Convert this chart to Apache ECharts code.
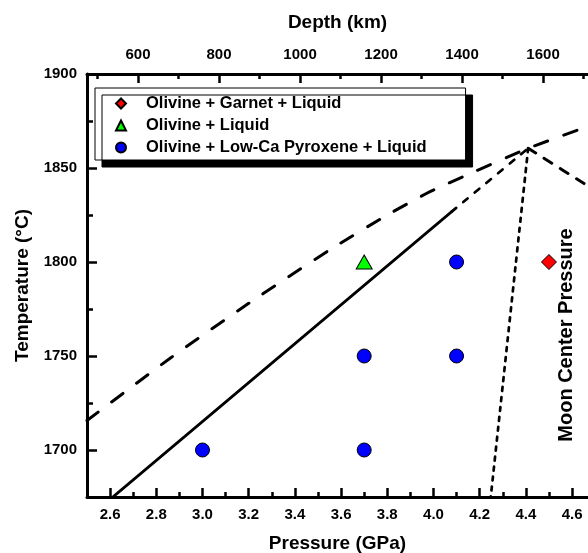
<!DOCTYPE html>
<html>
	<head>
		<meta charset="utf-8">
		<title></title>
		<script src="https://cdn.jsdelivr.net/npm/echarts@6/dist/echarts.min.js"></script>
	</head>
	<body style="margin:0">
		<div id="main" style="width:588px;height:553px;"></div>
		<script>
			// tick values
			var pressureTicks = [2.6, 2.8, 3.0, 3.2, 3.4, 3.6, 3.8, 4.0, 4.2, 4.4, 4.6];
			var pressureMinor = [2.7, 2.9, 3.1, 3.3, 3.5, 3.7, 3.9, 4.1, 4.3, 4.5];
			var depthTicks = [600, 800, 1000, 1200, 1400, 1600];
			var depthMinor = [500, 700, 900, 1100, 1300, 1500, 1700];
			var tempTicks = [1700, 1750, 1800, 1850, 1900];
			var tempMinor = [1725, 1775, 1825, 1875];

			// experiments (P GPa, T C)
			var garnetPts = [[4.5, 1800]];
			var liquidPts = [[3.7, 1800]];
			var pyroxenePts = [[4.1, 1800], [3.7, 1750], [4.1, 1750], [3.0, 1700], [3.7, 1700]];

			// phase boundaries
			var longDash = [[2.5, 1715.7], [2.86, 1748.8], [3.2, 1778], [3.55, 1806.4], [3.8, 1825], [3.985, 1837.4], [4.15, 1846.6], [4.41, 1860.5], [4.7, 1873.5]];
			var solidLine = [[2.614, 1675.2], [4.079, 1826.8]];
			var solidExt = [[4.079, 1826.8], [4.41, 1860.5]];
			var rightDash = [[4.41, 1860.5], [4.7, 1838]];
			var dotLine = [[4.41, 1860.5], [4.248, 1675]];

			var font = 'Liberation Sans, Arial, sans-serif';
			var bold = { fontFamily: font, fontWeight: 'bold', color: '#000' };
			var plain = function (v) { return String(v); };

			function lineSeries(data, width, dash) {
				return {
					type: 'line', data: data, showSymbol: false, symbol: 'none', silent: true, z: 1,
					smooth: 0.2,
					lineStyle: { color: '#000', width: width, type: dash, cap: 'round' }
				};
			}

			var myChart = echarts.init(document.getElementById('main'));
			var axisLine = { lineStyle: { color: '#000', width: 3 } };
			var option = {
				animation: false,
				backgroundColor: '#fff',
				grid: { left: 87, top: 74, right: 0, bottom: 56, outerBoundsMode: 'none', containLabel: false },
				legend: {
					orient: 'vertical', left: 95, top: 88,
					padding: [7, 39, 4, 20], itemGap: 5, itemWidth: 10, itemHeight: 10,
					backgroundColor: '#fff', borderColor: '#000', borderWidth: 1,
					shadowColor: '#000', shadowBlur: 0, shadowOffsetX: 7, shadowOffsetY: 7,
					textStyle: Object.assign({ fontSize: 16.5, padding: [0, 0, 0, 15] }, bold),
					data: ['Olivine + Garnet + Liquid', 'Olivine + Liquid', 'Olivine + Low-Ca Pyroxene + Liquid']
				},
				xAxis: [
					{
						type: 'value', position: 'bottom', min: 2.5, max: 4.669,
						axisLine: axisLine, splitLine: { show: false },
						axisTick: { inside: true, length: 9, lineStyle: { width: 2.5, color: '#000' }, customValues: pressureTicks },
						axisLabel: Object.assign({ fontSize: 15, margin: 10, customValues: pressureTicks, formatter: function (v) { return v.toFixed(1); } }, bold),
						name: 'Pressure (GPa)', nameLocation: 'middle', nameGap: 37,
						nameTextStyle: Object.assign({ fontSize: 19 }, bold)
					},
					{
						type: 'value', position: 'bottom', min: 2.5, max: 4.669,
						axisLine: { show: false }, splitLine: { show: false }, axisLabel: { show: false },
						axisTick: { inside: true, length: 5, lineStyle: { width: 2.5, color: '#000' }, customValues: pressureMinor }
					},
					{
						type: 'value', position: 'top', min: 474, max: 1711,
						axisLine: axisLine, splitLine: { show: false },
						axisTick: { inside: true, length: 9, lineStyle: { width: 2.5, color: '#000' }, customValues: depthTicks },
						axisLabel: Object.assign({ fontSize: 15, margin: 12, customValues: depthTicks, formatter: plain }, bold),
						name: 'Depth (km)', nameLocation: 'middle', nameGap: 42,
						nameTextStyle: Object.assign({ fontSize: 19 }, bold)
					},
					{
						type: 'value', position: 'top', min: 474, max: 1711,
						axisLine: { show: false }, splitLine: { show: false }, axisLabel: { show: false },
						axisTick: { inside: true, length: 5, lineStyle: { width: 2.5, color: '#000' }, customValues: depthMinor }
					}
				],
				yAxis: [
					{
						type: 'value', position: 'left', min: 1675, max: 1900,
						axisLine: axisLine, splitLine: { show: false },
						axisTick: { inside: true, length: 10, lineStyle: { width: 2.5, color: '#000' }, customValues: tempTicks },
						axisLabel: Object.assign({ fontSize: 15, margin: 10, customValues: tempTicks, formatter: plain }, bold),
						name: 'Temperature (°C)', nameLocation: 'middle', nameGap: 55,
						nameTextStyle: Object.assign({ fontSize: 19 }, bold)
					},
					{
						type: 'value', position: 'left', min: 1675, max: 1900,
						axisLine: { show: false }, splitLine: { show: false }, axisLabel: { show: false },
						axisTick: { inside: true, length: 6, lineStyle: { width: 2.5, color: '#000' }, customValues: tempMinor }
					}
				],
				graphic: [{
					type: 'text', x: 566, y: 335, rotation: Math.PI / 2,
					style: { text: 'Moon Center Pressure', font: 'bold 20px ' + font, fill: '#000', align: 'center', verticalAlign: 'middle' }
				}],
				series: [
					lineSeries(longDash, 3, [14, 17]),
					lineSeries(solidLine, 2.7, 'solid'),
					lineSeries(solidExt, 2.7, [6, 9]),
					lineSeries(rightDash, 3, [9, 10]),
					lineSeries(dotLine, 2.7, [4, 6]),
					{
						name: 'Olivine + Garnet + Liquid', type: 'scatter', data: garnetPts, z: 3,
						symbol: 'diamond', symbolSize: 15,
						itemStyle: { color: '#ff0000', borderColor: '#000', borderWidth: 1, opacity: 1 }
					},
					{
						name: 'Olivine + Liquid', type: 'scatter', data: liquidPts, z: 3,
						symbol: 'triangle', symbolSize: [16, 14],
						itemStyle: { color: '#00ff00', borderColor: '#000', borderWidth: 1, opacity: 1 }
					},
					{
						name: 'Olivine + Low-Ca Pyroxene + Liquid', type: 'scatter', data: pyroxenePts, z: 3,
						symbol: 'circle', symbolSize: 14,
						itemStyle: { color: '#0000ff', borderColor: '#000', borderWidth: 1, opacity: 1 }
					}
				]
			};
			myChart.setOption(option);
		</script>
	</body>
</html>
